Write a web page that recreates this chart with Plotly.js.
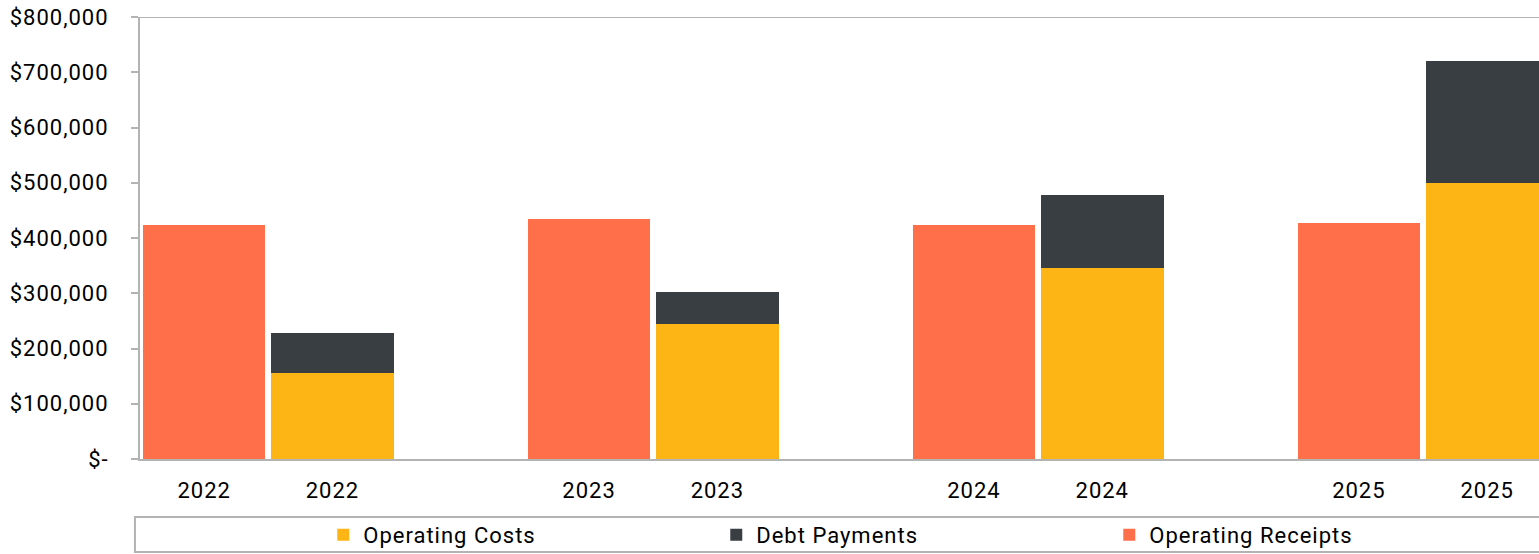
<!DOCTYPE html>
<html>
<head>
<meta charset="utf-8">
<script src="https://cdn.plot.ly/plotly-3.0.1.min.js"></script>
<style>
html,body{margin:0;padding:0;background:#fff;}
#chart{width:1539px;height:554px;}
#chart text{letter-spacing:1px;}
</style>
</head>
<body>
<div id="chart"></div>
<script>
const years = ['2022', '2023', '2024', '2025'];
const operatingReceipts = [424000, 434000, 424000, 427000];
const operatingCosts = [156000, 244000, 346000, 500000];
const debtPayments = [72000, 58000, 132000, 220000];
const yTickVals = [0, 100000, 200000, 300000, 400000, 500000, 600000, 700000, 800000];
const yTickText = ['$-', '$100,000', '$200,000', '$300,000', '$400,000', '$500,000', '$600,000', '$700,000', '$800,000'];

// Slot layout: each year has a receipts slot, a costs/debt slot, and a blank gap slot
const xReceipts = years.map((y, i) => 3 * i);
const xSpend = years.map((y, i) => 3 * i + 1);
const labelPos = [], labelText = [];
years.forEach((y, i) => { labelPos.push(3 * i, 3 * i + 1); labelText.push(y, y); });
const boundaries = [];
for (let k = 0; k <= 3 * years.length; k++) boundaries.push(k - 0.5);

const FONT = {family: 'Roboto, "Noto Sans", sans-serif', size: 22, color: '#000'};
const AXIS = '#b3b3b3';
const W = 0.955;

const traces = [
  {type: 'bar', name: 'Operating Costs', x: xSpend, y: operatingCosts, width: W,
   marker: {color: '#FDB515', line: {width: 0}}, hoverinfo: 'y'},
  {type: 'bar', name: 'Debt Payments', x: xSpend, y: debtPayments, width: W,
   marker: {color: '#393E43', line: {width: 0}}, hoverinfo: 'y'},
  {type: 'bar', name: 'Operating Receipts', x: xReceipts, y: operatingReceipts, width: W,
   marker: {color: '#FF6F4A', line: {width: 0}}, hoverinfo: 'y'}
];

const range = [-0.5, 10.404];

const layout = {
  width: 1539, height: 554,
  margin: {l: 140, r: 0, t: 17, b: 95, autoexpand: false},
  paper_bgcolor: '#fff', plot_bgcolor: '#fff',
  barmode: 'stack',
  font: FONT,
  showlegend: true,
  legend: {orientation: 'h', x: 0.131, xanchor: 'left', y: -0.172, yanchor: 'middle',
           entrywidth: 348, entrywidthmode: 'pixels', traceorder: 'normal',
           font: FONT, bgcolor: 'rgba(0,0,0,0)', itemwidth: 30},
  xaxis: {range: range, tickmode: 'array', tickvals: labelPos, ticktext: labelText,
          ticks: 'outside', ticklen: 11, tickcolor: 'rgba(0,0,0,0)',
          showline: true, linecolor: AXIS, linewidth: 2, showgrid: false, zeroline: false,
          tickfont: FONT, fixedrange: true},
  xaxis2: {range: range, overlaying: 'x', side: 'bottom', anchor: 'y', tickmode: 'array', tickvals: boundaries,
           ticktext: boundaries.map(() => ''), ticks: 'outside', ticklen: 7, tickcolor: AXIS, tickwidth: 2,
           showline: false, showgrid: false, zeroline: false, fixedrange: true},
  yaxis: {range: [0, 800000], tickmode: 'array', tickvals: yTickVals, ticktext: yTickText,
          ticks: 'outside', ticklen: 7, tickcolor: AXIS, tickwidth: 2,
          showline: true, linecolor: AXIS, linewidth: 2, showgrid: false, zeroline: false,
          tickfont: FONT, ticklabelstandoff: 18, fixedrange: true},
  shapes: [
    {type: 'line', xref: 'paper', yref: 'y', x0: 0, x1: 1, y0: 800000, y1: 800000,
     line: {color: AXIS, width: 2}},
    {type: 'rect', xref: 'paper', yref: 'paper', x0: -0.0036, x1: 1.01, y0: -0.1312, y1: -0.2104,
     line: {color: AXIS, width: 2}, fillcolor: 'rgba(0,0,0,0)', layer: 'below'}
  ]
};

Plotly.newPlot('chart', traces, layout, {displayModeBar: false, staticPlot: true});
</script>
</body>
</html>
